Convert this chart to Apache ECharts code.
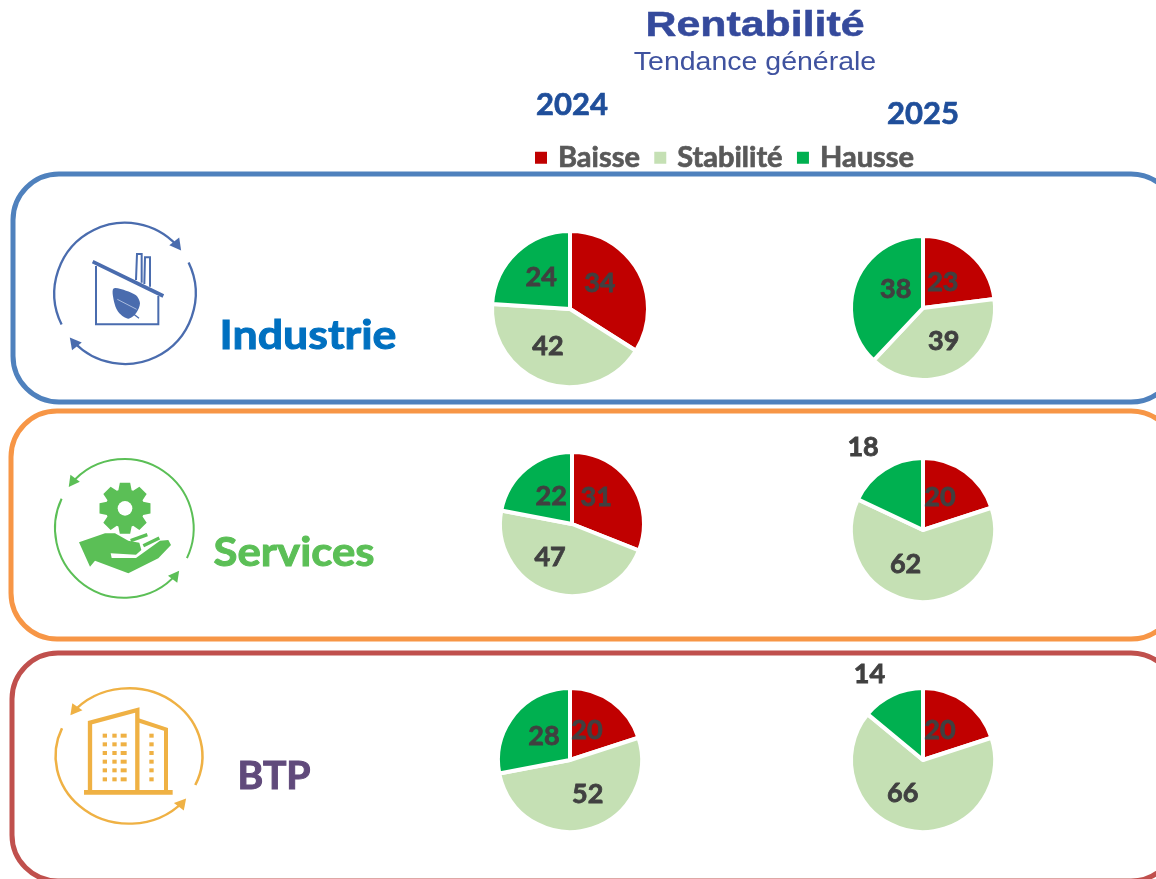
<!DOCTYPE html>
<html><head><meta charset="utf-8">
<style>html,body{margin:0;padding:0;background:#fff;overflow:hidden}#c{width:1156px;height:879px}</style>
<script src="https://cdn.jsdelivr.net/npm/echarts@6/dist/echarts.min.js"></script>
</head><body><div id="c"></div>
<script>
const trends = ['Baisse', 'Stabilité', 'Hausse'];
const trendColors = ['#c00000', '#c5e0b4', '#00b050'];
const sectors = ['Industrie', 'Services', 'BTP'];
const years = ['2024', '2025'];
const industrie2024 = [34, 42, 24];
const industrie2025 = [23, 39, 38];
const services2024 = [31, 47, 22];
const services2025 = [20, 62, 18];
const btp2024 = [20, 52, 28];
const btp2025 = [20, 66, 14];

const FONT = 'Lato';
const LABEL = '#404040';

// pie placement + label nudges (dx,dy per slice)
const pies = [
  {v: industrie2024, c: [570, 309], r: 78, n: [[-7, -5], [-9, -3], [0, -1]]},
  {v: industrie2025, c: [923, 308], r: 72, n: [[-6, 4], [3, -1], [9, -4]]},
  {v: services2024, c: [572, 524], r: 72, n: [[-8, -5], [-11, -4], [4, 2]]},
  {v: services2025, c: [923, 530], r: 72, n: [[-6, -1], [-15, -5], [-39, -50]]},
  {v: btp2024, c: [570, 760], r: 72, n: [[-6, 2], [8, -3], [4, 1]]},
  {v: btp2025, c: [923, 760], r: 72, n: [[-6, 2], [-13, -5], [-37, -50]]}
];

const series = pies.map(p => ({
  type: 'pie', center: p.c, radius: [0, p.r], startAngle: 90, clockwise: true,
  silent: true, animation: false, avoidLabelOverlap: false,
  itemStyle: {borderColor: '#fff', borderWidth: 4},
  label: {show: true, position: 'inside', formatter: '{c}', color: LABEL,
          fontFamily: FONT, fontWeight: 'bold', fontSize: 27, textBorderColor: LABEL, textBorderWidth: 0.8},
  labelLine: {show: false},
  labelLayout: params => ({dx: p.n[params.dataIndex][0], dy: p.n[params.dataIndex][1]}),
  data: trends.map((t, i) => ({name: t, value: p.v[i], itemStyle: {color: trendColors[i]}}))
}));

function ring(cx, cy, r, from, to, color, lw) {
  const a = Math.atan2(from[1] - cy, from[0] - cx), b = Math.atan2(to[1] - cy, to[0] - cx);
  return [{type: 'arc', shape: {cx, cy, r, startAngle: a, endAngle: b, clockwise: true},
    style: {stroke: color, lineWidth: lw, fill: null}, silent: true}];
}
function head(cx, cy, r, at, color, dir, len) {
  const a = Math.atan2(at[1] - cy, at[0] - cx);
  const tip = [cx + r * Math.cos(a), cy + r * Math.sin(a)];
  const t = [-Math.sin(a) * dir, Math.cos(a) * dir];
  const n = [Math.cos(a), Math.sin(a)];
  const base = [tip[0] - t[0] * len, tip[1] - t[1] * len];
  const w = len * 0.55;
  return {type: 'polygon', silent: true, shape: {points: [tip,
    [base[0] + n[0] * w, base[1] + n[1] * w], [base[0] - n[0] * w, base[1] - n[1] * w]]},
    style: {fill: color}};
}
const rect = (x, y, w, h, fill) => ({type: 'rect', silent: true, shape: {x, y, width: w, height: h}, style: {fill}});
const poly = (pts, fill, smooth) => ({type: 'polygon', silent: true, shape: {points: pts, smooth: smooth || 0}, style: {fill}});
const line = (pts, stroke, lw) => ({type: 'polyline', silent: true, shape: {points: pts}, style: {stroke, lineWidth: lw, fill: null}});

// ---- icon 1 (drawn in 3x crop coordinates, scaled down)
const C1 = '#4a6cae';
const icon1 = [
  ...ring(375, 370, 212, [188, 462], [530, 225], C1, 7),
  ...ring(375, 370, 212, [565, 278], [225, 515], C1, 7),
  head(375, 370, 212, [545, 240], C1, 1, 34),
  head(375, 370, 212, [210, 502], C1, 1, 34),
  line([[288, 288], [288, 463], [475, 463], [475, 378]], C1, 6),
  line([[278, 275], [490, 378]], C1, 11),
  line([[408, 330], [411, 252], [425, 252], [425, 338]], C1, 6),
  line([[433, 342], [435, 262], [450, 262], [450, 350]], C1, 6),
  poly([[340, 356], [378, 362], [408, 376], [420, 400], [408, 430], [385, 446], [358, 430], [344, 402]], C1, 0.3),
  line([[385, 420], [417, 445]], C1, 4),
  line([[352, 388], [410, 418]], '#a9bbdd', 3)
];

// ---- icon 2
const C2 = '#5bbf56';
const gear = [];
const GN = 8, GC = [375, 295];
for (let i = 0; i < GN; i++) {
  const a = i / GN * 2 * Math.PI - Math.PI / 2, s = 0.2, s2 = 0.29;
  [[58, -s2 - 0.06], [78, -s], [78, s], [58, s2 + 0.06]]
    .forEach(([r, d]) => gear.push([GC[0] + r * Math.cos(a + d), GC[1] + r * Math.sin(a + d)]));
}
const icon2 = [
  ...ring(373, 355, 208, [215, 225], [562, 445], C2, 6),
  ...ring(373, 355, 208, [530, 490], [182, 265], C2, 6),
  head(373, 355, 208, [208, 232], C2, -1, 32),
  head(373, 355, 208, [537, 482], C2, -1, 32),
  poly(gear, C2),
  {type: 'circle', silent: true, shape: {cx: 375, cy: 295, r: 22}, style: {fill: '#fff'}},
  poly([[237, 397], [315, 370], [345, 370], [385, 392], [418, 398], [424, 420], [408, 434], [332, 430], [335, 444], [408, 444],
        [480, 392], [505, 390], [513, 405], [475, 445], [385, 490], [285, 452], [270, 470]], C2),
  line([[392, 392], [442, 374]], C2, 10),
  line([[430, 407], [478, 384]], C2, 10)
];

// ---- icon 3 (its ring is slightly wider than tall)
const C3 = '#efb144';
const icon3 = [
  {type: 'group', silent: true, originX: 387, originY: 318, scaleX: 1.085, children: [
    ...ring(387, 318, 203, [226, 188], [570, 405], C3, 7),
    ...ring(387, 318, 203, [540, 458], [195, 232], C3, 7),
    head(387, 318, 203, [220, 192], C3, -1, 32),
    head(387, 318, 203, [548, 448], C3, -1, 32)
  ]},
  line([[270, 425], [270, 218], [412, 180], [412, 425]], C3, 13),
  line([[412, 210], [498, 238], [498, 425]], C3, 12),
  rect(252, 420, 266, 14, C3)
];
[257, 283, 309, 335, 361, 388].forEach(y => {
  [308, 337].forEach(x => icon3.push(rect(x, y - 6, 13, 12, C3)));
  icon3.push(rect(362, y - 6, 18, 12, C3));
  icon3.push(rect(448, y - 6, 13, 12, C3));
});

function group(x, y, children) {
  return {type: 'group', x, y, scaleX: 1 / 3, scaleY: 1 / 3, silent: true, children};
}
function panel(y1, y2, x1, color) {
  return {type: 'rect', silent: true, shape: {x: x1, y: y1, width: 1177 - x1, height: y2 - y1, r: 46},
    style: {fill: '#fff', stroke: color, lineWidth: 5}};
}
function txt(text, cx, cy, size, color, font, weight, sx, bold) {
  return {type: 'text', silent: true, x: cx, y: cy, scaleX: sx || 1, z: 5,
    style: {text, fill: color, fontFamily: font, fontWeight: weight, fontSize: size, textAlign: 'center', textVerticalAlign: 'middle',
            stroke: bold ? color : null, lineWidth: bold || 0}};
}

const graphic = [
  panel(174, 402, 13, '#4f81bd'),
  panel(411, 639, 11, '#f79646'),
  panel(653, 881, 12, '#c0504d'),
  group(0, 170, icon1), group(0, 410, icon2), group(0, 650, icon3),
  txt('Rentabilité', 755, 26, 35, '#354a9c', 'Liberation Sans', 'bold', 1.225, 0.5),
  txt('Tendance générale', 755, 63, 25, '#3f529f', 'Liberation Sans', 'normal', 1.14),
  txt(years[0], 572, 105, 31, '#1f4e9a', FONT, 'bold', 1, 0.7),
  txt(years[1], 923, 114, 31, '#1f4e9a', FONT, 'bold', 1, 0.7),
  txt(sectors[0], 308, 336, 41, '#0070c0', FONT, 'bold', 1.09, 1),
  txt(sectors[1], 294, 553, 41, '#5bbf56', FONT, 'bold', 1.066, 1),
  txt(sectors[2], 274, 777, 38, '#604a7b', FONT, 'bold', 1.03, 1)
];

const chart = echarts.init(document.getElementById('c'), null, {renderer: 'canvas'});
chart.setOption({
  backgroundColor: '#fff',
  animation: false,
  legend: {
    show: true, left: 528, top: 138, itemWidth: 14, itemHeight: 14, itemGap: 12, icon: 'rect',
    selectedMode: false, data: trends,
    textStyle: {color: '#595959', fontFamily: FONT, fontWeight: 'bold', fontSize: 29, padding: [0, 0, 0, 5],
                textBorderColor: '#595959', textBorderWidth: 0.7}
  },
  graphic: {elements: graphic},
  series
});
</script></body></html>
